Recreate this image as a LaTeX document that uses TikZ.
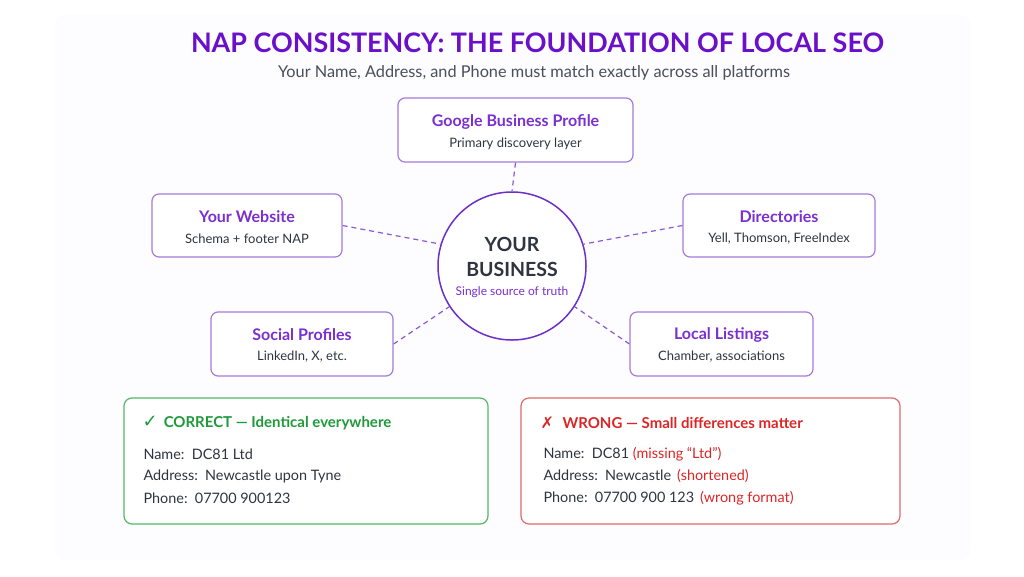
\documentclass[tikz,border=0pt]{standalone}
\usepackage{fontspec}
\setmainfont{Lato}
\newfontfamily\symfont{DejaVu Sans}
\definecolor{titlepurple}{HTML}{6A10C8}
\definecolor{boxpurple}{HTML}{7A2FD0}
\definecolor{edgepurple}{HTML}{A57BDD}
\definecolor{circpurple}{HTML}{6A30C8}
\definecolor{dashpurple}{HTML}{8A5AD6}
\definecolor{bodytext}{HTML}{2F3440}
\definecolor{subgray}{HTML}{4A4F5C}
\definecolor{okgreen}{HTML}{1E9A3A}
\definecolor{okedge}{HTML}{55B866}
\definecolor{badred}{HTML}{DC2626}
\definecolor{badedge}{HTML}{E06A6A}
\definecolor{panel}{HTML}{FDFCFE}
\tikzset{
  platform/.style={draw=edgepurple, line width=1.2pt, rounded corners=7pt, fill=white},
  ptitle/.style={text=boxpurple, font=\bfseries\fontsize{16}{18}\selectfont, anchor=center},
  psub/.style={text=bodytext, font=\fontsize{13}{15}\selectfont, anchor=center},
  link/.style={draw=dashpurple, line width=1.2pt, dash pattern=on 5pt off 4pt},
  napbox/.style={line width=1.2pt, rounded corners=8pt, fill=white},
  napline/.style={text=bodytext, font=\fontsize{14.4}{16}\selectfont, anchor=west},
}
\begin{document}
\begin{tikzpicture}[x=1pt,y=-1pt]
\useasboundingbox (0,0) rectangle (1024,576);
\fill[white] (0,0) rectangle (1024,576);
\fill[panel, rounded corners=10pt] (55,15) rectangle (970,560);
% title
\node[text=titlepurple, font=\bfseries\fontsize{26.9}{30}\selectfont] (title) at (537.5,42.5) {NAP CONSISTENCY: THE FOUNDATION OF LOCAL SEO};
\node[text=subgray, font=\fontsize{16.3}{18}\selectfont] (subtitle) at (534,72.5) {Your Name, Address, and Phone must match exactly across all platforms};
% center circle
\node[circle, draw=circpurple, line width=1.5pt, fill=white, minimum size=148pt, inner sep=0pt] (biz) at (512,266) {};
\node[text=bodytext, font=\bfseries\fontsize{19.5}{22}\selectfont] (your) at (512,244) {YOUR};
\node[text=bodytext, font=\bfseries\fontsize{19.5}{22}\selectfont] (business) at (512,269) {BUSINESS};
\node[text=boxpurple, font=\fontsize{12}{14}\selectfont] (truth) at (512,292) {Single source of truth};
% platform boxes
\node[platform, minimum width=235pt, minimum height=64pt] (gbp) at (515.5,130) {};
\node[ptitle] (gbpT) at (515.5,122) {Google Business Profile};
\node[psub] (gbpS) at (515.5,144) {Primary discovery layer};
\node[platform, minimum width=190pt, minimum height=63pt] (web) at (247,225.5) {};
\node[ptitle] (webT) at (247,217) {Your Website};
\node[psub] (webS) at (247,239) {Schema + footer NAP};
\node[platform, minimum width=192pt, minimum height=63pt] (dir) at (779,225.5) {};
\node[ptitle] (dirT) at (779,217) {Directories};
\node[psub] (dirS) at (779,239) {Yell, Thomson, FreeIndex};
\node[platform, minimum width=182pt, minimum height=64pt] (soc) at (302,344) {};
\node[ptitle] (socT) at (302,335) {Social Profiles};
\node[psub] (socS) at (302,357) {LinkedIn, X, etc.};
\node[platform, minimum width=183pt, minimum height=64pt] (loc) at (721.5,344) {};
\node[ptitle] (locT) at (721.5,335) {Local Listings};
\node[psub] (locS) at (721.5,357) {Chamber, associations};
% connectors
\draw[link] (gbp.south) -- (biz.north);
\draw[link] (web.east) -- (biz.163);
\draw[link] (dir.west) -- (biz.17);
\draw[link] (soc.east) -- (biz.213);
\draw[link] (loc.west) -- (biz.327);
% correct box
\node[napbox, draw=okedge, minimum width=364pt, minimum height=126pt] (ok) at (306,461) {};
\node[text=okgreen, font=\bfseries\fontsize{15}{17}\selectfont, anchor=west] (okT) at (139,423) {{\symfont\fontsize{18}{17}\selectfont ✓}\, CORRECT — Identical everywhere};
\node[napline] (ok1) at (140,454) {Name:\, DC81 Ltd};
\node[napline] (ok2) at (140,476) {Address:\, Newcastle upon Tyne};
\node[napline] (ok3) at (140,498) {Phone:\, 07700 900123};
% wrong box
\node[napbox, draw=badedge, minimum width=379pt, minimum height=126pt] (bad) at (710.5,461) {};
\node[text=badred, font=\bfseries\fontsize{15}{17}\selectfont, anchor=west] (badT) at (537,423) {{\symfont\fontsize{16}{16}\selectfont ✗}\,\, WRONG — Small differences matter};
\node[napline] (bad1) at (540,454) {Name:\, DC81 \textcolor{badred}{(missing “Ltd”)}};
\node[napline] (bad2) at (540,476) {Address:\, Newcastle\, \textcolor{badred}{(shortened)}};
\node[napline] (bad3) at (540,498) {Phone:\, 07700 900 123\, \textcolor{badred}{(wrong format)}};
\end{tikzpicture}
\end{document}
